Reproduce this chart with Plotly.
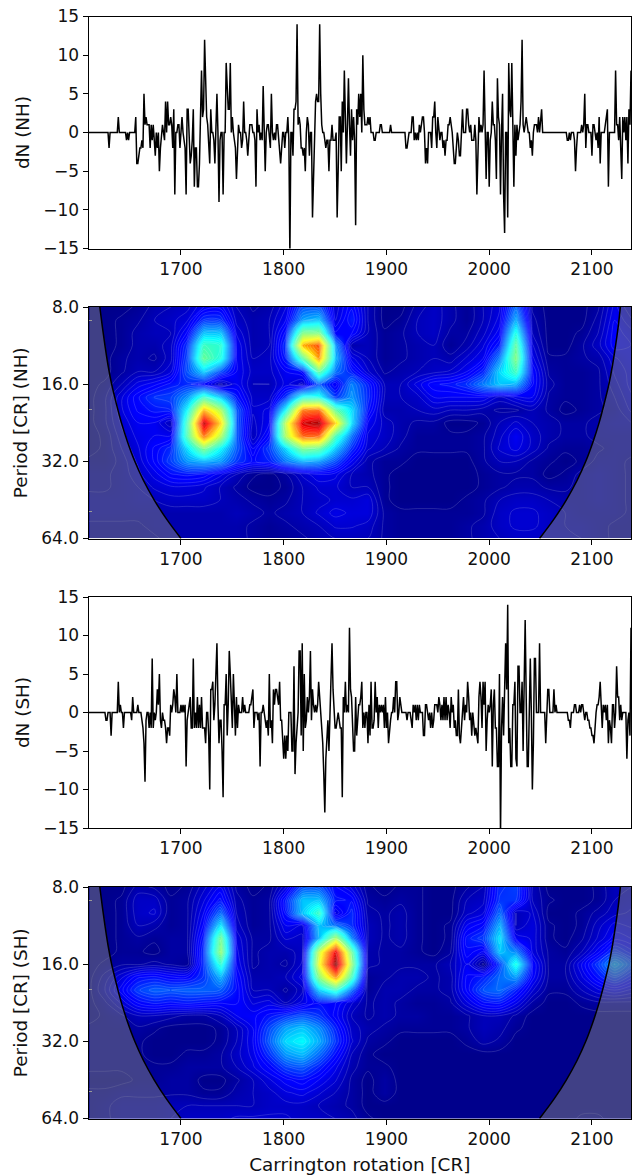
import plotly.graph_objects as go

# Carrington rotations of both difference series
cr = list(range(1610, 2139))

# dN northern hemisphere, ten values per row, first row starts at CR 1610
dn_nh = [
    0,0,0,0,0,0,0,0,0,0,
    0,0,0,0,0,0,0,0,0,0,
    -2,0,0,0,0,0,0,0,0,2,
    0,0,0,0,0,0,0,-1,0,-1,
    0,0,0,0,0,0,2,-4,-4,-3,
    -2,-2,-1,-2,5,1,2,1,1,1,
    -2,1,-1,1,-1,-3,0,-2,0,-5,
    -2,0,1,0,-1,4,0,4,1,1,
    2,1,-2,3,-8,0,0,1,1,-2,
    0,2,0,-1,-2,-8,3,3,-1,-4,   # 1700
    -3,-1,3,-7,-2,-2,-7,-7,-4,1,
    8,2,3,12,8,2,1,-1,-4,3,
    0,0,-1,-4,0,5,0,-9,-1,0,
    0,-8,0,0,9,5,3,3,9,0,
    2,0,-1,-2,-6,-1,1,0,0,-2,
    -1,4,0,0,-1,-3,0,1,1,1,
    0,0,-1,-7,3,0,1,-1,0,-1,
    6,-1,-5,0,1,1,-1,-2,5,0,
    -1,0,-1,1,1,-1,-2,-4,-2,0,
    0,-2,0,0,2,-1,-16,0,0,-3,   # 1800
    3,3,4,14,1,2,1,-2,-2,-3,
    -2,-5,0,2,1,-3,0,0,-11,-5,
    1,4,5,4,4,14,5,1,0,0,
    -1,-2,-1,-1,-5,-1,-1,1,-1,-1,
    -1,0,-11,-5,2,2,-5,4,0,8,
    0,-4,1,7,1,-3,3,-1,2,-1,
    -12,3,1,5,2,5,0,10,3,1,
    1,1,2,1,2,0,0,0,-1,-1,
    0,0,0,0,1,1,0,0,0,0,
    0,0,0,0,1,0,0,0,0,0,        # 1900
    0,0,0,0,0,0,0,0,0,-2,
    -2,-1,0,0,0,2,2,-1,0,-1,
    0,-1,1,0,1,2,2,0,-4,-2,
    -4,0,0,0,-2,2,2,4,0,-2,
    2,0,-1,0,0,-2,-1,-3,-1,-1,
    1,1,2,1,0,-2,-4,-4,-1,0,
    -1,-3,-3,1,3,0,0,0,3,3,
    1,0,1,-1,-1,-1,1,-1,-8,-1,
    2,0,1,0,1,8,0,-6,0,0,
    -7,-1,0,4,1,1,-1,-6,7,2,    # 2000
    1,-8,0,5,-8,-13,0,0,-11,9,
    3,2,9,1,-7,1,-3,1,-1,0,
    1,4,12,1,0,1,2,1,0,0,
    -2,-1,-3,0,1,1,1,0,2,0,
    2,3,0,0,0,0,0,0,0,0,
    0,0,0,0,0,0,0,0,0,0,
    0,0,0,0,0,0,-1,-1,0,-1,
    0,0,0,-1,-5,-2,0,0,0,0,
    1,0,1,5,-2,1,1,0,0,0,
    -3,1,1,0,-1,0,-2,2,-4,0,    # 2100
    0,0,0,1,2,3,-7,0,0,0,
    0,0,0,8,1,1,-1,2,-1,-6,
    2,0,2,-1,2,-4,3,1,8,
]

# dN southern hemisphere, same layout
dn_sh = [
    0,0,0,0,0,0,0,0,0,0,
    0,0,0,0,0,0,0,-1,-1,0,
    0,0,-3,0,0,0,0,0,0,4,
    0,1,0,0,-2,0,0,0,0,0,
    0,0,-1,2,0,0,0,0,1,0,
    0,0,-1,-2,-4,-9,-1,0,0,-2,
    0,-2,7,-2,0,-1,0,3,1,5,
    -1,-2,0,-1,-1,-2,-4,-2,-2,-3,
    1,0,1,3,2,0,5,0,0,0,
    1,0,1,0,1,-7,-1,0,1,2,      # 1700
    -2,-2,7,-2,0,-2,2,-2,1,-2,
    2,-2,-2,-2,-4,0,0,-3,-10,3,
    3,4,-1,1,5,9,1,-4,-1,-1,
    -5,-11,1,1,5,-3,1,8,5,1,
    -2,5,1,-3,2,-2,1,0,0,0,
    2,0,1,0,0,0,0,1,1,2,
    3,-2,0,0,0,-1,0,-7,0,0,
    1,0,-1,-2,-1,-3,5,-2,-1,-4,
    3,1,3,3,2,1,4,-1,-1,-3,
    -6,-3,-6,-3,-5,0,0,0,-5,-5, # 1800
    6,-8,-4,-2,0,8,8,-3,9,-5,
    5,-2,-1,2,0,2,8,-1,3,1,
    0,1,0,1,4,2,0,-1,-4,-8,
    -13,-6,-3,-1,-5,1,7,9,3,1,
    -2,-2,-1,0,-1,-2,-2,-11,2,0,
    4,0,1,0,11,3,2,-1,-5,-5,
    2,-3,-1,1,1,2,4,-2,0,-2,
    0,0,-4,1,-3,4,-2,-2,-1,4,
    0,2,-2,1,0,1,0,1,-2,2,
    -2,0,-4,-2,-1,0,0,2,0,4,    # 1900
    4,-1,0,2,1,0,0,0,0,0,
    -1,0,0,0,-1,-2,1,0,1,-1,
    1,-1,1,0,0,0,-3,-3,1,1,
    0,-1,0,-2,0,-2,-1,1,1,1,
    0,2,1,-1,1,-1,2,-1,2,-1,
    1,0,-2,2,0,1,-2,-1,-3,-3,
    3,-3,-4,-2,-1,2,-1,1,0,4,
    2,-1,0,-3,0,-2,-3,-2,-3,-4,
    2,4,2,-2,4,1,4,-5,-1,1,
    0,1,3,-7,1,3,-2,-2,-7,-7,   # 2000
    5,-16,-2,2,-3,3,9,3,14,-4,
    -2,-7,-7,1,1,4,-6,-7,6,6,
    0,0,4,-5,4,12,2,-7,-7,0,
    7,0,-10,-4,7,7,0,0,0,9,
    0,0,0,0,0,-4,0,3,3,0,
    0,0,0,3,0,1,0,0,0,0,
    0,0,0,0,0,0,0,-1,-1,-2,
    0,0,0,1,1,0,0,0,1,0,
    1,1,0,-1,0,0,-1,-1,-2,-2,
    -3,-3,-4,-1,0,1,1,2,4,1,    # 2100
    -2,1,0,1,-1,1,-4,-1,-2,-4,
    1,1,-2,0,6,2,2,-1,1,-1,
    0,0,0,0,-6,-1,0,-3,11,
]

# Wavelet power grids
wave_cr = [1610,1626,1642,1658,1674,1690,1706,1722,1738,1754,1770,1786,1802,1818,1834,1850,1866,
           1882,1898,1914,1930,1946,1962,1978,1994,2010,2026,2042,2058,2074,2090,2106,2122,2138]
wave_period = [8, 9, 10.1, 11.3, 12.7, 14.3, 16, 18, 20.2, 22.6, 25.4, 28.5, 32, 36, 40.3, 45.3, 50.8, 57, 64]

power_nh = [
 [.01,.01,.01,.02,.04,.05,.06,.10,.11,.05,.03,.04,.08,.20,.20,.07,.13,.05, .01,.01,.04,.06,.04,.02,.05,.08,.22,.03,.01,.01,.01,.03,.09,.05],
 [.01,.01,.02,.03,.05,.06,.08,.17,.17,.06,.04,.05,.10,.27,.30,.08,.15,.05, .01,.02,.05,.06,.04,.02,.05,.09,.28,.04,.01,.01,.01,.04,.10,.07],
 [.01,.01,.02,.04,.05,.05,.12,.30,.30,.08,.04,.05,.14,.50,.50,.12,.12,.05, .02,.03,.05,.06,.03,.03,.06,.11,.38,.05,.01,.01,.02,.05,.11,.09],
 [.01,.01,.02,.04,.04,.06,.17,.42,.40,.10,.04,.05,.17,.72,.82,.25,.04,.05, .02,.03,.04,.05,.02,.04,.08,.15,.46,.07,.01,.01,.03,.06,.11,.10],
 [.01,.01,.03,.04,.03,.06,.19,.47,.38,.10,.05,.06,.15,.45,.75,.28,.09,.05, .02,.03,.04,.05,.04,.07,.10,.24,.50,.09,.02,.02,.03,.04,.08,.10],
 [.01,.01,.03,.05,.05,.08,.20,.30,.18,.10,.06,.06,.10,.12,.45,.22,.15,.07, .03,.04,.05,.06,.07,.10,.16,.32,.42,.12,.03,.02,.02,.03,.07,.09],
 [.01,.02,.05,.09,.11,.14,.16,.12,.04,.10,.05,.05,.09,.06,.20,.10,.24,.15, .05,.05,.09,.13,.14,.17,.24,.30,.28,.12,.04,.02,.02,.03,.06,.09],
 [.01,.03,.08,.13,.17,.18,.26,.42,.30,.14,.06,.06,.17,.38,.38,.17,.26,.16, .05,.05,.06,.10,.10,.10,.10,.06,.09,.10,.03,.02,.02,.03,.05,.08],
 [.01,.03,.08,.12,.14,.15,.36,.72,.55,.20,.07,.09,.36,.78,.80,.46,.32,.14, .04,.04,.05,.06,.05,.05,.04,.03,.03,.05,.03,.01,.02,.03,.04,.07],
 [.01,.03,.07,.10,.10,.05,.45,.95,.68,.20,.06,.10,.58,.93,.97,.68,.32,.10, .06,.04,.03,.03,.01,.01,.02,.05,.07,.05,.04,.03,.03,.04,.05,.05],
 [.01,.02,.06,.09,.10,.10,.45,.78,.55,.20,.05,.13,.55,.80,.80,.42,.22,.08, .06,.04,.02,.02,.02,.02,.03,.06,.10,.06,.04,.03,.03,.04,.04,.04],
 [.01,.02,.05,.08,.12,.16,.33,.50,.35,.20,.10,.18,.32,.50,.47,.30,.16,.07, .05,.03,.02,.02,.02,.02,.03,.07,.09,.06,.03,.02,.02,.03,.04,.04],
 [.02,.02,.04,.07,.12,.18,.26,.28,.26,.17,.13,.15,.23,.28,.26,.19,.10,.04, .02,.02,.01,.01,.01,.01,.03,.05,.05,.03,.02,.01,.02,.04,.04,.03],
 [.03,.03,.04,.06,.09,.13,.14,.13,.09,.05,.02,.01,.03,.07,.10,.09,.05,.04, .02,.01,.01,.01,.01,.01,.02,.03,.03,.03,.01,.02,.04,.05,.04,.03],
 [.03,.03,.04,.05,.07,.08,.08,.07,.05,.03,.01,.01,.02,.05,.07,.07,.05,.05, .02,.01,.01,.01,.01,.01,.02,.03,.04,.04,.03,.03,.04,.05,.04,.03],
 [.04,.04,.04,.05,.05,.06,.06,.06,.05,.04,.03,.02,.03,.05,.06,.07,.07,.08, .02,.01,.01,.01,.01,.02,.03,.05,.06,.06,.05,.04,.04,.05,.04,.03],
 [.04,.04,.04,.04,.04,.04,.04,.04,.04,.05,.04,.03,.04,.05,.07,.09,.08,.08, .03,.02,.02,.02,.02,.02,.03,.06,.07,.07,.06,.05,.04,.04,.04,.03],
 [.03,.03,.03,.03,.04,.04,.04,.04,.04,.04,.03,.02,.03,.04,.05,.07,.07,.06, .03,.02,.02,.02,.02,.03,.04,.06,.07,.07,.06,.05,.05,.04,.03,.03],
 [.03,.03,.03,.03,.03,.04,.04,.04,.04,.04,.03,.02,.02,.03,.04,.05,.05,.05, .03,.02,.02,.02,.02,.03,.04,.05,.06,.06,.06,.06,.05,.04,.03,.03],
]

power_sh = [
 [.01,.01,.01,.04,.03,.01,.02,.06,.10,.03,.01,.02,.08,.20,.20,.12,.08,.02, .01,.02,.02,.01,.01,.03,.05,.16,.18,.05,.01,.01,.01,.02,.05,.05],
 [.01,.01,.02,.06,.06,.02,.03,.08,.14,.04,.02,.03,.15,.30,.30,.14,.13,.03, .02,.03,.02,.01,.01,.05,.06,.17,.17,.05,.02,.01,.01,.02,.05,.06],
 [.01,.01,.02,.06,.07,.02,.03,.10,.22,.05,.02,.03,.14,.30,.42,.08,.16,.04, .03,.04,.02,.01,.01,.06,.08,.22,.05,.07,.01,.01,.02,.04,.06,.07],
 [.01,.01,.02,.05,.04,.02,.03,.12,.33,.06,.02,.03,.10,.08,.30,.22,.16,.05, .03,.04,.02,.01,.02,.10,.13,.28,.05,.08,.02,.01,.02,.06,.09,.08],
 [.01,.01,.02,.03,.02,.03,.03,.15,.48,.08,.03,.03,.07,.06,.28,.55,.24,.05, .03,.04,.02,.01,.02,.14,.18,.33,.10,.08,.02,.01,.03,.07,.11,.10],
 [.01,.01,.02,.02,.01,.03,.03,.17,.52,.09,.03,.04,.04,.06,.58,.92,.47,.04, .03,.03,.02,.01,.03,.13,.10,.30,.25,.08,.03,.02,.05,.11,.18,.14],
 [.01,.02,.03,.03,.04,.03,.02,.17,.40,.10,.03,.04,.03,.07,.62,1.0,.52,.04, .03,.03,.03,.03,.05,.10,.01,.18,.38,.12,.03,.03,.10,.18,.27,.20],
 [.01,.04,.08,.13,.14,.12,.12,.17,.28,.12,.04,.04,.05,.09,.50,.75,.42,.02, .03,.04,.04,.03,.04,.12,.15,.22,.26,.11,.03,.03,.08,.14,.19,.14],
 [.01,.05,.11,.18,.21,.20,.21,.21,.20,.13,.05,.05,.03,.06,.30,.40,.22,.02, .04,.04,.03,.03,.04,.12,.20,.22,.15,.07,.02,.02,.05,.08,.10,.08],
 [.01,.03,.07,.12,.14,.13,.14,.13,.12,.12,.08,.09,.05,.09,.13,.12,.07,.03, .04,.03,.02,.02,.03,.08,.13,.14,.09,.03,.01,.01,.02,.03,.03,.03],
 [.01,.02,.03,.05,.05,.04,.03,.03,.05,.10,.11,.14,.17,.20,.17,.11,.05,.03, .04,.03,.03,.02,.02,.03,.05,.05,.03,.01,.01,.01,.01,.01,.01,.01],
 [.02,.02,.02,.03,.02,.01,.01,.01,.02,.05,.10,.19,.27,.30,.25,.15,.06,.04, .03,.02,.02,.02,.02,.03,.05,.04,.02,.01,.01,.01,.01,.01,.01,.01],
 [.02,.02,.02,.02,.01,.01,.01,.01,.02,.05,.10,.21,.32,.35,.28,.17,.07,.03, .02,.01,.01,.01,.01,.02,.04,.03,.01,.01,.01,.01,.01,.01,.01,.01],
 [.02,.02,.02,.02,.01,.01,.02,.02,.03,.06,.09,.17,.26,.29,.22,.13,.05,.02, .01,.01,.01,.01,.01,.01,.01,.01,.01,.01,.01,.01,.01,.01,.01,.01],
 [.02,.02,.02,.02,.02,.02,.03,.03,.03,.05,.08,.12,.18,.20,.15,.09,.04,.02, .02,.01,.01,.01,.01,.01,.01,.01,.01,.01,.01,.01,.01,.01,.01,.01],
 [.01,.01,.01,.02,.02,.03,.03,.01,.01,.03,.05,.08,.11,.13,.10,.07,.03,.01, .03,.01,.01,.01,.01,.01,.01,.01,.01,.01,.01,.01,.01,.01,.01,.01],
 [.02,.02,.03,.03,.03,.03,.03,.02,.02,.04,.05,.06,.08,.09,.07,.05,.03,.01, .03,.01,.01,.01,.01,.01,.01,.01,.01,.01,.01,.01,.01,.01,.01,.01],
 [.02,.03,.04,.04,.04,.05,.05,.05,.05,.05,.05,.06,.06,.06,.05,.04,.03,.01, .01,.01,.01,.01,.01,.01,.01,.01,.01,.01,.01,.01,.01,.01,.01,.01],
 [.02,.03,.04,.04,.04,.05,.06,.06,.06,.07,.07,.07,.07,.06,.06,.05,.04,.02, .01,.01,.01,.01,.01,.01,.01,.01,.01,.01,.01,.01,.02,.02,.01,.01],
]

# Cone of influence
coi_period = [8, 9.5, 11.3, 13.5, 16, 19, 22.6, 26.9, 32, 38, 45.3, 53.8, 64]
coi_left_cr = [1621, 1623.4, 1626, 1629, 1632.5, 1637, 1642, 1648, 1655, 1663.5, 1674, 1686, 1700]
coi_right_cr = [2127.7, 2125.6, 2123, 2120, 2116.5, 2112, 2107, 2101, 2094, 2085.5, 2075, 2063, 2049]
x_ticks = [1700, 1800, 1900, 2000, 2100]
dn_ticks = [-15, -10, -5, 0, 5, 10, 15]
period_ticks = [8, 16, 32, 64]
period_labels = ["8.0", "16.0", "32.0", "64.0"]
period_minor = [9, 20, 50]

jet = [[0, "rgb(0,0,128)"], [0.11, "rgb(0,0,255)"], [0.125, "rgb(0,0,255)"], [0.35, "rgb(0,255,255)"],
       [0.5, "rgb(124,255,121)"], [0.64, "rgb(255,255,0)"], [0.89, "rgb(255,0,0)"], [1, "rgb(128,0,0)"]]

W, H, L, R = 635, 1175, 88.5, 631
spans = [(16.5, 248.5), (307, 538.5), (597, 828), (887, 1118.5)]
FONT = "DejaVu Sans"
SIZE = 17
TITLE_SIZE = 18.4

fig = go.Figure()


def add_series(n, values):
    fig.add_trace(go.Scatter(x=cr, y=values, mode="lines", line=dict(color="black", width=1.5),
                             xaxis=f"x{n}", yaxis=f"y{n}", showlegend=False))


def add_wave(n, z):
    fig.add_trace(go.Contour(x=wave_cr, y=wave_period, z=z, zmin=0, zmax=1, colorscale=jet, showscale=False,
                             autocontour=False,
                             contours=dict(start=0.0, end=1.0, size=0.0167, coloring="heatmap", showlines=True),
                             line=dict(color="rgba(255,255,255,0.25)", width=0.6, smoothing=1),
                             xaxis=f"x{n}", yaxis=f"y{n}"))
    fig.add_trace(go.Scatter(x=[1611] + coi_left_cr + [1611, 1611], y=[8] + coi_period + [64, 8],
                             mode="lines", fill="toself", fillcolor="rgba(128,128,128,0.5)",
                             line=dict(width=0), xaxis=f"x{n}", yaxis=f"y{n}", showlegend=False))
    fig.add_trace(go.Scatter(x=[2138] + coi_right_cr + [2138, 2138], y=[8] + coi_period + [64, 8],
                             mode="lines", fill="toself", fillcolor="rgba(128,128,128,0.5)",
                             line=dict(width=0), xaxis=f"x{n}", yaxis=f"y{n}", showlegend=False))
    for c in (coi_left_cr, coi_right_cr):
        fig.add_trace(go.Scatter(x=c, y=coi_period, mode="lines", line=dict(color="black", width=1.5, shape="spline"),
                                 xaxis=f"x{n}", yaxis=f"y{n}", showlegend=False))


add_series(1, dn_nh)
add_wave(2, power_nh)
add_series(3, dn_sh)
add_wave(4, power_sh)

common = dict(showline=True, linecolor="black", linewidth=1, mirror=True, ticks="outside", ticklen=5,
              tickwidth=1, tickcolor="black", showgrid=False, zeroline=False, automargin=False,
              tickfont=dict(family=FONT, size=SIZE, color="#111"))
titles = ["dN (NH)", "Period [CR] (NH)", "dN (SH)", "Period [CR] (SH)"]
for i, (top, bot) in enumerate(spans):
    n = i + 1
    xa = dict(common, domain=[L / W, R / W], range=[1610, 2138], tickmode="array", tickvals=x_ticks,
              anchor=f"y{n}")
    if n == 4:
        xa["title"] = dict(text="Carrington rotation [CR]", font=dict(family=FONT, size=TITLE_SIZE, color="#111"), standoff=12)
    ya = dict(common, domain=[1 - bot / H, 1 - top / H], anchor=f"x{n}",
              title=dict(text=titles[i], font=dict(family=FONT, size=TITLE_SIZE, color="#111"), standoff=8))
    if n % 2:
        ya.update(range=[-15, 15], tickmode="array", tickvals=dn_ticks)
    else:
        ya.update(type="log", range=[1.80618, 0.90309], tickmode="array", tickvals=period_ticks,
                  ticktext=period_labels,
                  minor=dict(tickmode="array", tickvals=period_minor, ticks="inside", ticklen=3,
                             tickcolor="#999", showgrid=False))
    fig.layout[f"xaxis{n}"] = xa
    fig.layout[f"yaxis{n}"] = ya

fig.update_layout(width=W, height=H, margin=dict(l=0, r=0, t=0, b=0), paper_bgcolor="white",
                  plot_bgcolor="white", showlegend=False, font=dict(family=FONT, size=SIZE))
fig.write_html("out.html", post_script="document.body.style.margin='0';", config={"displayModeBar": False})
